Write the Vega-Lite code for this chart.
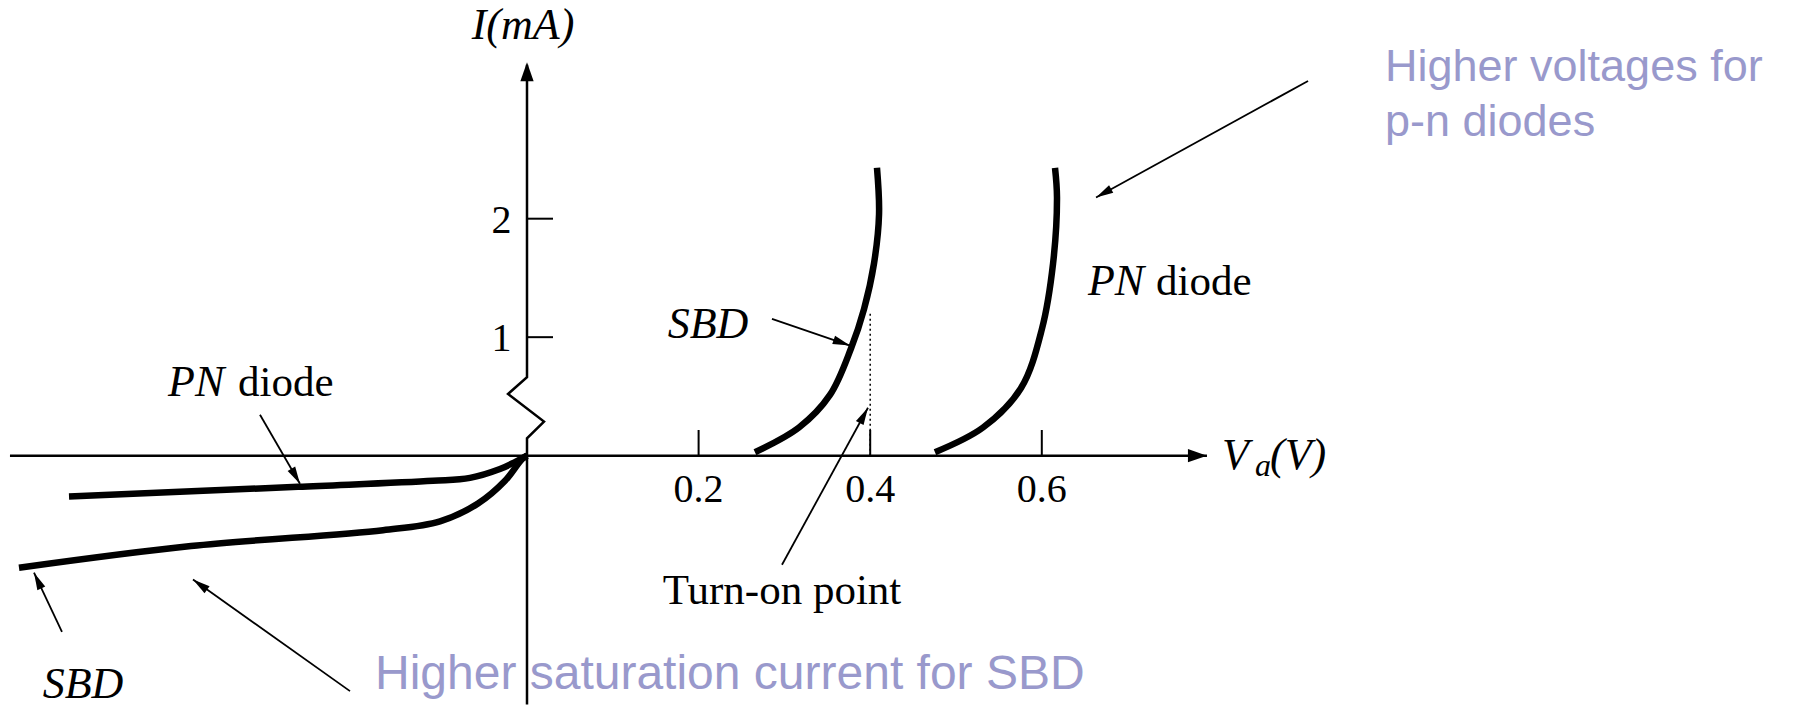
{
  "$schema": "https://vega.github.io/schema/vega-lite/v6.json",
  "width": 1802,
  "height": 710,
  "autosize": {"type": "fit", "contains": "padding"},
  "padding": 0,
  "background": "white",
  "config": {"view": {"stroke": null}},
  "datasets": {
    "curves": [
      {"series": "SBD reverse", "k": 0, "v": -0.5921, "i": -0.9458},
      {"series": "SBD reverse", "k": 1, "v": -0.3916, "i": -0.7625},
      {"series": "SBD reverse", "k": 2, "v": -0.1678, "i": -0.6292},
      {"series": "SBD reverse", "k": 3, "v": -0.1014, "i": -0.5542},
      {"series": "SBD reverse", "k": 4, "v": -0.0571, "i": -0.4042},
      {"series": "SBD reverse", "k": 5, "v": -0.0256, "i": -0.2125},
      {"series": "SBD reverse", "k": 6, "v": -0.0058, "i": -0.0292},
      {"series": "SBD reverse", "k": 7, "v": 0, "i": 0},
      {"series": "PN reverse", "k": 0, "v": -0.5338, "i": -0.3458},
      {"series": "PN reverse", "k": 1, "v": -0.2669, "i": -0.2625},
      {"series": "PN reverse", "k": 2, "v": -0.1096, "i": -0.2125},
      {"series": "PN reverse", "k": 3, "v": -0.0664, "i": -0.1875},
      {"series": "PN reverse", "k": 4, "v": -0.0315, "i": -0.1125},
      {"series": "PN reverse", "k": 5, "v": -0.014, "i": -0.0542},
      {"series": "PN reverse", "k": 6, "v": 0, "i": 0},
      {"series": "SBD forward", "k": 0, "v": 0.2657, "i": 0.0292},
      {"series": "SBD forward", "k": 1, "v": 0.317, "i": 0.2375},
      {"series": "SBD forward", "k": 2, "v": 0.3531, "i": 0.5125},
      {"series": "SBD forward", "k": 3, "v": 0.3776, "i": 0.9042},
      {"series": "SBD forward", "k": 4, "v": 0.3928, "i": 1.2375},
      {"series": "SBD forward", "k": 5, "v": 0.4044, "i": 1.6208},
      {"series": "SBD forward", "k": 6, "v": 0.4103, "i": 2.0375},
      {"series": "SBD forward", "k": 7, "v": 0.4079, "i": 2.4292},
      {"series": "PN forward", "k": 0, "v": 0.4755, "i": 0.0292},
      {"series": "PN forward", "k": 1, "v": 0.5315, "i": 0.2375},
      {"series": "PN forward", "k": 2, "v": 0.5758, "i": 0.5708},
      {"series": "PN forward", "k": 3, "v": 0.6002, "i": 1.0708},
      {"series": "PN forward", "k": 4, "v": 0.6131, "i": 1.6208},
      {"series": "PN forward", "k": 5, "v": 0.6177, "i": 2.1792},
      {"series": "PN forward", "k": 6, "v": 0.6154, "i": 2.4292}
    ],
    "yaxis": [
      {"k": 0, "v": 0, "i": 3.3},
      {"k": 1, "v": 0, "i": 0.6625},
      {"k": 2, "v": -0.0221, "i": 0.5208},
      {"k": 3, "v": 0.0198, "i": 0.2875},
      {"k": 4, "v": 0, "i": 0.1458},
      {"k": 5, "v": 0, "i": -2.1}
    ],
    "arrows": [
      {"name": "Higher voltages", "v": 0.9103, "i": 3.1625, "tv": 0.6632, "ti": 2.1792, "angle": 240.9},
      {"name": "SBD forward", "v": 0.2855, "i": 1.1542, "tv": 0.3765, "ti": 0.9292, "angle": 109.1},
      {"name": "Turn-on point", "v": 0.2972, "i": -0.9208, "tv": 0.3974, "ti": 0.4042, "angle": 28.4},
      {"name": "PN reverse", "v": -0.3112, "i": 0.3458, "tv": -0.2646, "ti": -0.2375, "angle": 150.3},
      {"name": "SBD reverse", "v": -0.542, "i": -1.4875, "tv": -0.5746, "ti": -0.9875, "angle": 335.0},
      {"name": "Higher saturation", "v": -0.2063, "i": -1.9875, "tv": -0.3893, "ti": -1.0458, "angle": 305.7}
    ]
  },
  "layer": [
    {
      "data": {"values": [{"v": -0.6026, "tv": 0.7925, "i": 0}]},
      "mark": {"type": "rule", "color": "black", "strokeWidth": 2.5},
      "encoding": {
        "x": {"field": "v", "type": "quantitative", "scale": {"domain": [-0.61422, 1.48601], "nice": false, "zero": false}, "axis": null},
        "x2": {"field": "tv"},
        "y": {"field": "i", "type": "quantitative", "scale": {"domain": [-2.07083, 3.84583], "nice": false, "zero": false}, "axis": null}
      }
    },
    {
      "data": {"name": "yaxis"},
      "mark": {"type": "line", "color": "black", "strokeWidth": 2.5, "strokeJoin": "miter"},
      "encoding": {
        "x": {"field": "v", "type": "quantitative"},
        "y": {"field": "i", "type": "quantitative"},
        "order": {"field": "k", "type": "quantitative"}
      }
    },
    {
      "data": {"values": [{"v": 0.2, "label": "0.2"}, {"v": 0.4, "label": "0.4"}, {"v": 0.6, "label": "0.6"}]},
      "layer": [
        {
          "mark": {"type": "rule", "color": "black", "strokeWidth": 2},
          "encoding": {
            "x": {"field": "v", "type": "quantitative"},
            "y": {"datum": 0, "type": "quantitative"},
            "y2": {"datum": 0.2167}
          }
        },
        {
          "mark": {"type": "text", "font": "Liberation Serif", "fontSize": 40, "align": "center", "baseline": "alphabetic", "color": "black"},
          "encoding": {
            "x": {"field": "v", "type": "quantitative"},
            "y": {"datum": -0.3875, "type": "quantitative"},
            "text": {"field": "label"}
          }
        }
      ]
    },
    {
      "data": {"values": [{"i": 1, "label": "1"}, {"i": 2, "label": "2"}]},
      "layer": [
        {
          "mark": {"type": "rule", "color": "black", "strokeWidth": 2},
          "encoding": {
            "y": {"field": "i", "type": "quantitative"},
            "x": {"datum": 0, "type": "quantitative"},
            "x2": {"datum": 0.0303}
          }
        },
        {
          "mark": {"type": "text", "font": "Liberation Serif", "fontSize": 40, "align": "right", "baseline": "middle", "color": "black", "dy": 2},
          "encoding": {
            "y": {"field": "i", "type": "quantitative"},
            "x": {"datum": -0.018, "type": "quantitative"},
            "text": {"field": "label"}
          }
        }
      ]
    },
    {
      "data": {"name": "curves"},
      "mark": {"type": "line", "color": "black", "strokeWidth": 6.5, "interpolate": "catmull-rom", "strokeCap": "butt"},
      "encoding": {
        "x": {"field": "v", "type": "quantitative"},
        "y": {"field": "i", "type": "quantitative"},
        "detail": {"field": "series"},
        "order": {"field": "k", "type": "quantitative"}
      }
    },
    {
      "data": {"values": [{"v": 0.4, "i": 0, "ti": 1.2}]},
      "mark": {"type": "rule", "color": "black", "strokeWidth": 1.5, "strokeDash": [2, 3]},
      "encoding": {
        "x": {"field": "v", "type": "quantitative"},
        "y": {"field": "i", "type": "quantitative"},
        "y2": {"field": "ti"}
      }
    },
    {
      "data": {"name": "arrows"},
      "layer": [
        {
          "mark": {"type": "rule", "color": "black", "strokeWidth": 1.8},
          "encoding": {
            "x": {"field": "v", "type": "quantitative"},
            "y": {"field": "i", "type": "quantitative"},
            "x2": {"field": "tv"},
            "y2": {"field": "ti"}
          }
        },
        {
          "mark": {"type": "point", "shape": "M0,0L-0.5,2L0.5,2Z", "filled": true, "color": "black", "opacity": 1, "size": 300, "strokeWidth": 0},
          "encoding": {
            "x": {"field": "tv", "type": "quantitative"},
            "y": {"field": "ti", "type": "quantitative"},
            "angle": {"field": "angle", "type": "quantitative", "scale": null}
          }
        }
      ]
    },
    {
      "data": {"values": [{"v": 0.7925, "i": 0, "angle": 90}, {"v": 0, "i": 3.3208, "angle": 0}]},
      "mark": {"type": "point", "shape": "M0,0L-0.7,2L0.7,2Z", "filled": true, "color": "black", "opacity": 1, "size": 361, "strokeWidth": 0},
      "encoding": {
        "x": {"field": "v", "type": "quantitative"},
        "y": {"field": "i", "type": "quantitative"},
        "angle": {"field": "angle", "type": "quantitative", "scale": null}
      }
    },
    {
      "data": {"values": [
        {"v": -0.0047, "i": 3.5125, "text": "I(mA)"},
        {"v": 0.211, "i": 0.9958, "text": "SBD"},
        {"v": -0.5175, "i": -2.0458, "text": "SBD"}
      ]},
      "mark": {"type": "text", "font": "Liberation Serif", "fontStyle": "italic", "fontSize": 44, "align": "center", "baseline": "alphabetic", "color": "black"},
      "encoding": {
        "x": {"field": "v", "type": "quantitative"},
        "y": {"field": "i", "type": "quantitative"},
        "text": {"field": "text"}
      }
    },
    {
      "data": {"values": [
        {"v": 0.6538, "i": 1.3542, "text": "PN"},
        {"v": -0.4184, "i": 0.5, "text": "PN"},
        {"v": 0.81, "i": -0.1125, "text": "V"},
        {"v": 0.866, "i": -0.1125, "text": "(V)"}
      ]},
      "mark": {"type": "text", "font": "Liberation Serif", "fontStyle": "italic", "fontSize": 44, "align": "left", "baseline": "alphabetic", "color": "black"},
      "encoding": {
        "x": {"field": "v", "type": "quantitative"},
        "y": {"field": "i", "type": "quantitative"},
        "text": {"field": "text"}
      }
    },
    {
      "data": {"values": [{"v": 0.8485, "i": -0.1708, "text": "a"}]},
      "mark": {"type": "text", "font": "Liberation Serif", "fontStyle": "italic", "fontSize": 32, "align": "left", "baseline": "alphabetic", "color": "black"},
      "encoding": {
        "x": {"field": "v", "type": "quantitative"},
        "y": {"field": "i", "type": "quantitative"},
        "text": {"field": "text"}
      }
    },
    {
      "data": {"values": [
        {"v": 0.7331, "i": 1.3542, "text": "diode"},
        {"v": -0.3368, "i": 0.5, "text": "diode"}
      ]},
      "mark": {"type": "text", "font": "Liberation Serif", "fontSize": 43, "align": "left", "baseline": "alphabetic", "color": "black"},
      "encoding": {
        "x": {"field": "v", "type": "quantitative"},
        "y": {"field": "i", "type": "quantitative"},
        "text": {"field": "text"}
      }
    },
    {
      "data": {"values": [{"v": 0.2972, "i": -1.2542, "text": "Turn-on point"}]},
      "mark": {"type": "text", "font": "Liberation Serif", "fontSize": 43, "align": "center", "baseline": "alphabetic", "color": "black"},
      "encoding": {
        "x": {"field": "v", "type": "quantitative"},
        "y": {"field": "i", "type": "quantitative"},
        "text": {"field": "text"}
      }
    },
    {
      "data": {"values": [
        {"v": 1.0, "i": 3.1625, "text": "Higher voltages for"},
        {"v": 1.0, "i": 2.6958, "text": "p-n diodes"}
      ]},
      "mark": {"type": "text", "font": "Liberation Sans", "fontSize": 45, "align": "left", "baseline": "alphabetic", "color": "#9999CC"},
      "encoding": {
        "x": {"field": "v", "type": "quantitative"},
        "y": {"field": "i", "type": "quantitative"},
        "text": {"field": "text"}
      }
    },
    {
      "data": {"values": [
        {"v": -0.1772, "i": -1.9708, "text": "Higher saturation current for SBD"}
      ]},
      "mark": {"type": "text", "font": "Liberation Sans", "fontSize": 48, "align": "left", "baseline": "alphabetic", "color": "#9999CC"},
      "encoding": {
        "x": {"field": "v", "type": "quantitative"},
        "y": {"field": "i", "type": "quantitative"},
        "text": {"field": "text"}
      }
    }
  ]
}
